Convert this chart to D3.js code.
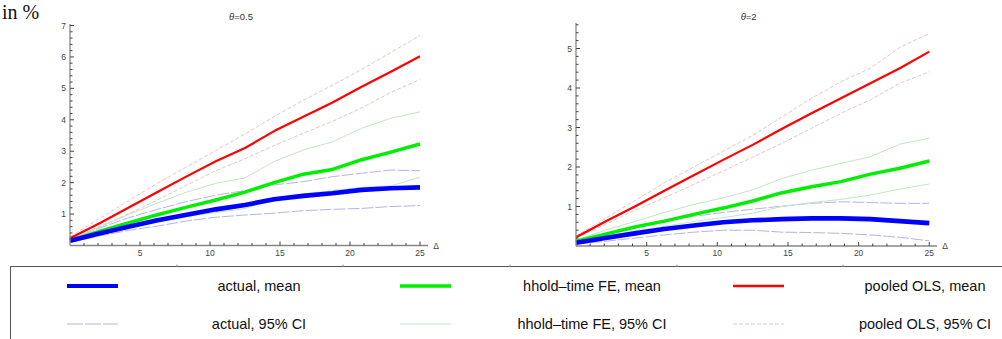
<!DOCTYPE html>
<html>
<head>
<meta charset="utf-8">
<script src="https://cdn.jsdelivr.net/npm/d3@7"></script>
<style>
  html, body { margin: 0; padding: 0; background: #fff; }
  svg { display: block; }
</style>
</head>
<body>
<svg id="chart" width="1002" height="339"></svg>
<script>
// Horizon grid: 13 points from 0 to 25
const delta = [0, 2.083, 4.167, 6.25, 8.333, 10.417, 12.5, 14.583, 16.667, 18.75, 20.833, 22.917, 25];

// theta = 0.5
const actualMeanA  = [0.15, 0.38, 0.60, 0.80, 0.98, 1.15, 1.29, 1.47, 1.58, 1.66, 1.77, 1.82, 1.85];
const actualLoA    = [0.10, 0.30, 0.48, 0.62, 0.78, 0.90, 0.97, 1.03, 1.11, 1.15, 1.18, 1.24, 1.27];
const actualHiA    = [0.20, 0.55, 0.88, 1.15, 1.40, 1.60, 1.75, 1.93, 2.03, 2.19, 2.30, 2.40, 2.38];
const feMeanA      = [0.15, 0.45, 0.72, 0.98, 1.22, 1.45, 1.70, 2.00, 2.27, 2.42, 2.73, 2.97, 3.23];
const feLoA        = [0.12, 0.35, 0.56, 0.75, 0.92, 1.05, 1.18, 1.45, 1.64, 1.75, 1.85, 1.90, 2.17];
const feHiA        = [0.18, 0.58, 0.98, 1.35, 1.70, 1.98, 2.15, 2.67, 3.04, 3.30, 3.73, 4.05, 4.25];
const olsMeanA     = [0.23, 0.70, 1.20, 1.70, 2.20, 2.68, 3.10, 3.64, 4.10, 4.55, 5.05, 5.53, 6.02];
const olsLoA       = [0.20, 0.60, 1.00, 1.45, 1.92, 2.38, 2.76, 3.18, 3.57, 3.95, 4.38, 4.87, 5.28];
const olsHiA       = [0.28, 0.85, 1.42, 1.98, 2.50, 3.02, 3.55, 4.10, 4.62, 5.10, 5.60, 6.14, 6.68];

// theta = 2
const actualMeanB  = [0.08, 0.20, 0.32, 0.43, 0.52, 0.60, 0.65, 0.68, 0.70, 0.70, 0.68, 0.63, 0.58];
const actualLoB    = [0.05, 0.12, 0.20, 0.28, 0.35, 0.40, 0.40, 0.35, 0.34, 0.32, 0.28, 0.22, 0.13];
const actualHiB    = [0.10, 0.30, 0.48, 0.63, 0.75, 0.85, 0.93, 1.01, 1.08, 1.12, 1.10, 1.08, 1.08];
const feMeanB      = [0.12, 0.30, 0.48, 0.63, 0.80, 0.96, 1.14, 1.35, 1.50, 1.63, 1.82, 1.97, 2.15];
const feLoB        = [0.10, 0.25, 0.38, 0.50, 0.62, 0.72, 0.83, 1.00, 1.10, 1.18, 1.29, 1.44, 1.57];
const feHiB        = [0.15, 0.40, 0.62, 0.85, 1.05, 1.22, 1.42, 1.71, 1.92, 2.09, 2.26, 2.58, 2.73];
const olsMeanB     = [0.22, 0.62, 1.00, 1.40, 1.79, 2.18, 2.56, 2.97, 3.36, 3.74, 4.12, 4.50, 4.92];
const olsLoB       = [0.20, 0.55, 0.90, 1.22, 1.56, 1.90, 2.25, 2.60, 2.98, 3.36, 3.70, 4.12, 4.41];
const olsHiB       = [0.25, 0.70, 1.15, 1.60, 2.00, 2.40, 2.80, 3.27, 3.74, 4.16, 4.50, 5.03, 5.38];

const panelTitles = ["0.5", "2"];
const yTicksA = [1, 2, 3, 4, 5, 6, 7];
const yTicksB = [1, 2, 3, 4, 5];
const xTicks = [5, 10, 15, 20, 25];

const legendLabels = [
  "actual, mean", "hhold\u2013time FE, mean", "pooled OLS, mean",
  "actual, 95% CI", "hhold\u2013time FE, 95% CI", "pooled OLS, 95% CI"
];

// Line styles per series
const styles = {
  actualMean: { stroke: "#0000ff", width: 4.6, dash: null },
  actualCI:   { stroke: "#b4b4e6", width: 1, dash: "12,2" },
  feMean:     { stroke: "#00ee00", width: 3.5, dash: null },
  feCI:       { stroke: "#c2e6c2", width: 1, dash: null },
  olsMean:    { stroke: "#ff0000", width: 2.2, dash: null },
  olsCI:      { stroke: "#eac4c4", width: 1, dash: "4,2" }
};

const svg = d3.select("#chart");
const font = "'Liberation Sans', Arial, sans-serif";

// Heading text at top-left
svg.append("text")
  .attr("x", 2).attr("y", 19)
  .attr("font-family", "'Liberation Serif', 'Times New Roman', serif")
  .attr("font-size", 20).attr("fill", "#111")
  .text("in %");

const panels = [
  { title: panelTitles[0], x0: 70, x1: 420, xEnd: 428, yTop: 25.5, yBot: 245.5, yMax: 7, yAxisTop: 24,
    yTicks: yTicksA,
    series: [
      [actualLoA, "actualCI"], [actualHiA, "actualCI"],
      [feLoA, "feCI"], [feHiA, "feCI"],
      [olsLoA, "olsCI"], [olsHiA, "olsCI"],
      [olsMeanA, "olsMean"], [feMeanA, "feMean"], [actualMeanA, "actualMean"]
    ] },
  { title: panelTitles[1], x0: 576, x1: 929.3, xEnd: 937, yTop: 48.5, yBot: 246, yMax: 5, yAxisTop: 23,
    yTicks: yTicksB,
    series: [
      [actualLoB, "actualCI"], [actualHiB, "actualCI"],
      [feLoB, "feCI"], [feHiB, "feCI"],
      [olsLoB, "olsCI"], [olsHiB, "olsCI"],
      [olsMeanB, "olsMean"], [feMeanB, "feMean"], [actualMeanB, "actualMean"]
    ] }
];

panels.forEach(p => {
  const x = d3.scaleLinear().domain([0, 25]).range([p.x0, p.x1]);
  const y = d3.scaleLinear().domain([0, p.yMax]).range([p.yBot, p.yTop]);
  const yTopVal = y.invert(p.yAxisTop);
  const xEndVal = x.invert(p.xEnd);
  const g = svg.append("g");

  // Title
  const t = g.append("text")
    .attr("x", (p.x0 + p.x1) / 2 - 4).attr("y", 20)
    .attr("text-anchor", "middle")
    .attr("font-family", font).attr("font-size", 9.5).attr("fill", "#333");
  t.append("tspan").attr("font-style", "italic").text("\u03b8");
  t.append("tspan").text("=" + p.title);

  // Curves
  const line = d3.line().x((d, i) => x(delta[i])).y(d => y(d));
  p.series.forEach(([vals, key]) => {
    const s = styles[key];
    g.append("path")
      .datum(vals)
      .attr("d", line)
      .attr("fill", "none")
      .attr("stroke", s.stroke)
      .attr("stroke-width", s.width)
      .attr("stroke-dasharray", s.dash)
      .attr("stroke-linejoin", "round");
  });

  // X axis
  const xMinor = d3.range(1, 26);
  g.append("line")
    .attr("x1", x(0)).attr("x2", x(xEndVal))
    .attr("y1", y(0)).attr("y2", y(0))
    .attr("stroke", "#888").attr("stroke-width", 1.3);
  g.selectAll(".xminor").data(xMinor).enter().append("line")
    .attr("x1", d => x(d)).attr("x2", d => x(d))
    .attr("y1", y(0)).attr("y2", d => y(0) - (d % 5 === 0 ? 4 : 2.5))
    .attr("stroke", "#444").attr("stroke-width", 1);
  g.selectAll(".xlab").data(xTicks).enter().append("text")
    .attr("x", d => x(d)).attr("y", y(0) + 10)
    .attr("text-anchor", "middle")
    .attr("font-family", font).attr("font-size", 8.5).attr("fill", "#444")
    .text(d => d);
  g.append("text")
    .attr("x", p.xEnd + 8).attr("y", y(0) + 3)
    .attr("text-anchor", "middle")
    .attr("font-family", font).attr("font-size", 8.5).attr("fill", "#444")
    .text("\u0394");

  // Y axis
  const yMinor = d3.range(0.2, yTopVal, 0.2).filter(v => v < yTopVal - 0.01);
  g.append("line")
    .attr("x1", x(0)).attr("x2", x(0))
    .attr("y1", y(0)).attr("y2", y(yTopVal))
    .attr("stroke", "#888").attr("stroke-width", 1.3);
  g.selectAll(".yminor").data(yMinor).enter().append("line")
    .attr("x1", x(0)).attr("x2", d => x(0) + (Math.abs(d - Math.round(d)) < 0.01 ? 4 : 2.5))
    .attr("y1", d => y(d)).attr("y2", d => y(d))
    .attr("stroke", "#444").attr("stroke-width", 1);
  g.selectAll(".ylab").data(p.yTicks).enter().append("text")
    .attr("x", x(0) - 4).attr("y", d => y(d) + 3)
    .attr("text-anchor", "end")
    .attr("font-family", font).attr("font-size", 8.5).attr("fill", "#444")
    .text(d => d);
});

// Legend box
const lg = svg.append("g");
lg.append("rect")
  .attr("x", 10.5).attr("y", 266.5).attr("width", 1000).attr("height", 100)
  .attr("fill", "none").attr("stroke", "#555").attr("stroke-width", 1);
[177, 343, 510, 677, 843].forEach(xx => {
  lg.append("line").attr("x1", xx).attr("x2", xx).attr("y1", 264.5).attr("y2", 266.5)
    .attr("stroke", "#999").attr("stroke-width", 1);
});

const legendKeys = ["actualMean", "feMean", "olsMean", "actualCI", "feCI", "olsCI"];
const swatchX = [67, 400, 733];
const textX = [259, 592, 925];
const rowY = [286, 324];
legendKeys.forEach((k, i) => {
  const col = i % 3, row = Math.floor(i / 3);
  const s = styles[k];
  lg.append("line")
    .attr("x1", swatchX[col]).attr("x2", swatchX[col] + 51)
    .attr("y1", rowY[row]).attr("y2", rowY[row])
    .attr("stroke", s.stroke)
    .attr("stroke-width", k === "actualMean" ? 4 : (k === "feMean" ? 3.5 : (k === "olsMean" ? 2.5 : 1.2)))
    .attr("stroke-dasharray", k === "actualCI" ? "16,2" : s.dash);
  lg.append("text")
    .attr("x", textX[col]).attr("y", rowY[row] + 5)
    .attr("text-anchor", "middle")
    .attr("font-family", font).attr("font-size", 14.5).attr("fill", "#111")
    .text(legendLabels[i]);
});
</script>
</body>
</html>
